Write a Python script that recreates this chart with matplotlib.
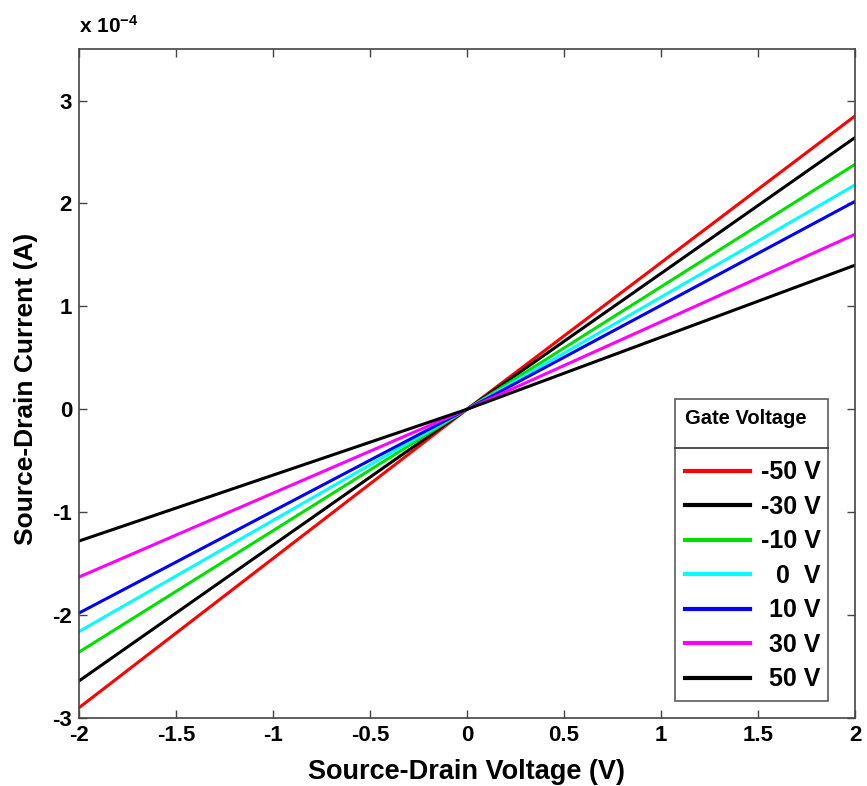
import matplotlib
matplotlib.use("Agg")
import matplotlib.pyplot as plt
from matplotlib.lines import Line2D

plt.rcParams['font.family'] = ['Liberation Sans', 'DejaVu Sans']
plt.rcParams['font.weight'] = 'bold'
plt.rcParams['mathtext.fontset'] = 'custom'
plt.rcParams['mathtext.rm'] = 'Liberation Sans:bold'
plt.rcParams['mathtext.bf'] = 'Liberation Sans:bold'
plt.rcParams['mathtext.default'] = 'bf'

# Source-drain voltage (V)
voltage = [-2.0, 0.0, 2.0]
# Gate voltage labels
gate_labels = ["-50 V", "-30 V", "-10 V", "0  V", "10 V", "30 V", "50 V"]
colors = ["#ff0000", "#000000", "#00e000", "#00ffff", "#0000ff", "#ff00ff", "#000000"]
# Source-drain current in units of 1e-4 A
cur_m50 = [-2.90, 0.0, 2.85]
cur_m30 = [-2.64, 0.0, 2.64]
cur_m10 = [-2.36, 0.0, 2.38]
cur_0 = [-2.16, 0.0, 2.18]
cur_10 = [-1.98, 0.0, 2.02]
cur_30 = [-1.63, 0.0, 1.70]
cur_50 = [-1.28, 0.0, 1.40]
currents = [cur_m50, cur_m30, cur_m10, cur_0, cur_10, cur_30, cur_50]

xticks = [-2, -1.5, -1, -0.5, 0, 0.5, 1, 1.5, 2]
xticklabels = ["-2", "-1.5", "-1", "-0.5", "0", "0.5", "1", "1.5", "2"]
yticks = [-3, -2, -1, 0, 1, 2, 3]

fig = plt.figure(figsize=(8.67, 7.86), dpi=100)
ax = fig.add_axes([0.0911, 0.0865, 0.895, 0.851])

handles = []
for cur, col, lab in zip(currents, colors, gate_labels):
    ln, = ax.plot(voltage, cur, color=col, lw=2.2, label=lab)
    handles.append(ln)

ax.set_xlim(-2, 2)
ax.set_ylim(-3, 3.5)
ax.set_xticks(xticks)
ax.set_xticklabels(xticklabels)
ax.set_yticks(yticks)
ax.set_yticklabels([str(v) for v in yticks])
ax.tick_params(direction='in', top=True, right=True, length=6, width=1,
               labelsize=16, color='#444444', pad=5)
for lab in ax.get_xticklabels() + ax.get_yticklabels():
    lab.set_fontweight('bold')
for sp in ax.spines.values():
    sp.set_color('#444444')
    sp.set_linewidth(1.2)

ax.set_xlabel("Source-Drain Voltage (V)", fontsize=19.5, fontweight='bold')
ax.set_ylabel("Source-Drain Current (A)", fontsize=19, fontweight='bold')
ax.xaxis.set_label_coords(0.5, -0.061)
ax.yaxis.set_label_coords(-0.053, 0.492)
ax.text(0.0, 1.018, r"x 10$^{-4}$", transform=ax.transAxes, fontsize=15,
        fontweight='bold', ha='left', va='bottom')

leg = ax.legend(handles=handles, title="Gate Voltage", loc='lower right',
                bbox_to_anchor=(0.965, 0.025), frameon=True, fancybox=False,
                edgecolor='#333333', handlelength=2.6, handletextpad=0.3,
                labelspacing=0.42, borderpad=0.4, borderaxespad=0.0,
                prop={'weight': 'bold', 'size': 18},
                title_fontproperties={'weight': 'bold', 'size': 14.5})
leg.get_frame().set_linewidth(1.2)
leg._legend_box.align = "left"
leg._legend_box.sep = 23
for lh in leg.get_lines():
    lh.set_linewidth(3)

fig.canvas.draw()
renderer = fig.canvas.get_renderer()
widths = [t.get_window_extent(renderer).width for t in leg.get_texts()]
shift = max(widths)
for t, w in zip(leg.get_texts(), widths):
    t.set_position((shift - w + 3, 0))

fig.canvas.draw()
lbb = leg.get_window_extent(renderer)
tbb = leg.get_title().get_window_extent(renderer)
ysep = tbb.y0 - 20
inv = fig.transFigure.inverted()
(x0, y0) = inv.transform((lbb.x0, ysep))
(x1, _) = inv.transform((lbb.x1, ysep))
fig.add_artist(Line2D([x0, x1], [y0, y0], transform=fig.transFigure,
                      color='#333333', lw=1.2))

fig.savefig("out.png", dpi=100)
